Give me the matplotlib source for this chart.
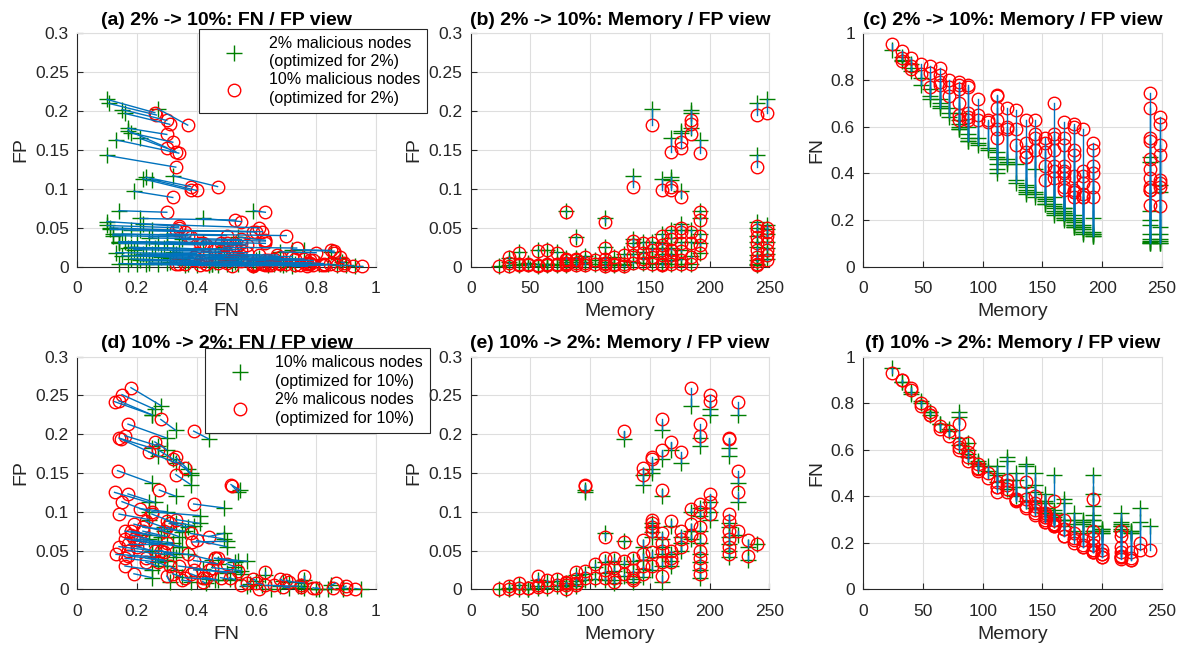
import numpy as np
import matplotlib
matplotlib.use('Agg')
import matplotlib.pyplot as plt
from matplotlib.ticker import FuncFormatter

plt.rcParams['font.family'] = ['Liberation Sans', 'DejaVu Sans']

# ---- top row: optimized for 2%, evaluated at 2% (green) and 10% (red) ----
mem_top = [24,
           32, 32, 32,
           40, 40, 40,
           48, 48,
           56, 56, 56,
           64, 64, 64, 64,
           72, 72, 72,
           80, 80, 80, 80, 80, 80,
           88, 88, 88, 88, 88,
           96, 96, 96,
           104, 104,
           112, 112, 112, 112, 112, 112,
           120, 120, 120,
           128, 128, 128,
           136, 136, 136, 136, 136,
           144, 144, 144, 144,
           152, 152, 152, 152, 152,
           160, 160, 160, 160, 160, 160, 160,
           168, 168, 168, 168, 168, 168, 168, 168, 168,
           176, 176, 176, 176, 176, 176, 176, 176, 176,
           184, 184, 184, 184, 184, 184, 184,
           192, 192, 192, 192, 192, 192,
           240, 240, 240, 240, 240, 240, 240, 240, 240, 240, 240,
           248, 248, 248, 248, 248, 248, 248, 248]
fn2_top = [0.93,
           0.90, 0.885, 0.88,
           0.87, 0.85, 0.84,
           0.81, 0.78,
           0.76, 0.73, 0.72,
           0.72, 0.70, 0.69, 0.68,
           0.68, 0.66, 0.64,
           0.59, 0.66, 0.63, 0.61, 0.60, 0.59,
           0.54, 0.60, 0.57, 0.55, 0.54,
           0.55, 0.53, 0.52,
           0.51, 0.50,
           0.42, 0.49, 0.47, 0.46, 0.44, 0.40,
           0.46, 0.45, 0.44,
           0.44, 0.37, 0.36,
           0.32, 0.35, 0.34, 0.33, 0.31,
           0.42, 0.32, 0.31, 0.30,
           0.27, 0.30, 0.29, 0.28, 0.27,
           0.22, 0.30, 0.27, 0.26, 0.25, 0.24, 0.23,
           0.21, 0.23, 0.25, 0.25, 0.24, 0.23, 0.22, 0.21, 0.20,
           0.18, 0.17, 0.19, 0.22, 0.21, 0.20, 0.19, 0.18, 0.17,
           0.15, 0.16, 0.17, 0.18, 0.16, 0.15, 0.14,
           0.13, 0.14, 0.21, 0.15, 0.14, 0.13,
           0.105, 0.10, 0.10, 0.11, 0.12, 0.14, 0.18, 0.20, 0.24, 0.45, 0.47,
           0.10, 0.10, 0.11, 0.12, 0.14, 0.17, 0.32, 0.35]
fp2_top = [0.001,
           0.002, 0.006, 0.011,
           0.002, 0.019, 0.004,
           0.003, 0.005,
           0.021, 0.003, 0.001,
           0.022, 0.003, 0.002, 0.004,
           0.019, 0.004, 0.002,
           0.072, 0.009, 0.006, 0.011, 0.004, 0.002,
           0.038, 0.009, 0.006, 0.011, 0.003,
           0.014, 0.006, 0.003,
           0.009, 0.003,
           0.062, 0.025, 0.011, 0.006, 0.003, 0.002,
           0.013, 0.004, 0.002,
           0.016, 0.004, 0.002,
           0.117, 0.035, 0.030, 0.016, 0.006,
           0.032, 0.019, 0.011, 0.005,
           0.203, 0.032, 0.024, 0.013, 0.004,
           0.113, 0.042, 0.030, 0.024, 0.016, 0.005, 0.003,
           0.165, 0.115, 0.112, 0.047, 0.037, 0.024, 0.016, 0.008, 0.003,
           0.172, 0.175, 0.097, 0.055, 0.047, 0.032, 0.022, 0.010, 0.004,
           0.202, 0.197, 0.178, 0.047, 0.032, 0.014, 0.004,
           0.163, 0.072, 0.062, 0.042, 0.030, 0.018,
           0.210, 0.143, 0.058, 0.050, 0.040, 0.032, 0.025, 0.015, 0.008, 0.004, 0.002,
           0.215, 0.053, 0.048, 0.042, 0.032, 0.024, 0.016, 0.010]
fn10_top = [0.955,
            0.925, 0.895, 0.88,
            0.895, 0.86, 0.845,
            0.87, 0.825,
            0.86, 0.83, 0.77,
            0.85, 0.82, 0.79, 0.78,
            0.80, 0.77, 0.73,
            0.63, 0.79, 0.78, 0.76, 0.70, 0.65,
            0.63, 0.78, 0.77, 0.66, 0.64,
            0.72, 0.65, 0.63,
            0.63, 0.62,
            0.55, 0.735, 0.73, 0.68, 0.63, 0.59,
            0.68, 0.60, 0.59,
            0.67, 0.59, 0.52,
            0.47, 0.63, 0.53, 0.49, 0.47,
            0.63, 0.57, 0.55, 0.50,
            0.37, 0.55, 0.53, 0.49, 0.43,
            0.38, 0.70, 0.57, 0.55, 0.50, 0.43, 0.41,
            0.33, 0.38, 0.40, 0.62, 0.55, 0.52, 0.43, 0.41, 0.34,
            0.32, 0.30, 0.32, 0.61, 0.60, 0.50, 0.48, 0.39, 0.33,
            0.30, 0.31, 0.30, 0.59, 0.41, 0.39, 0.36,
            0.34, 0.30, 0.53, 0.50, 0.43, 0.40,
            0.265, 0.33, 0.34, 0.33, 0.38, 0.42, 0.46, 0.54, 0.55, 0.68, 0.745,
            0.26, 0.34, 0.36, 0.37, 0.48, 0.52, 0.61, 0.64]
fp10_top = [0.001,
            0.001, 0.005, 0.012,
            0.002, 0.018, 0.003,
            0.002, 0.004,
            0.020, 0.002, 0.001,
            0.021, 0.002, 0.002, 0.003,
            0.018, 0.003, 0.002,
            0.070, 0.008, 0.005, 0.010, 0.003, 0.002,
            0.034, 0.008, 0.005, 0.010, 0.002,
            0.013, 0.005, 0.002,
            0.008, 0.003,
            0.058, 0.024, 0.010, 0.005, 0.003, 0.001,
            0.012, 0.003, 0.002,
            0.015, 0.003, 0.001,
            0.103, 0.033, 0.028, 0.015, 0.005,
            0.030, 0.018, 0.010, 0.005,
            0.182, 0.030, 0.022, 0.012, 0.003,
            0.098, 0.040, 0.028, 0.022, 0.015, 0.004, 0.002,
            0.148, 0.103, 0.098, 0.045, 0.035, 0.022, 0.015, 0.007, 0.003,
            0.160, 0.153, 0.089, 0.050, 0.045, 0.030, 0.020, 0.008, 0.003,
            0.188, 0.183, 0.170, 0.045, 0.030, 0.012, 0.003,
            0.146, 0.070, 0.060, 0.040, 0.028, 0.017,
            0.195, 0.128, 0.052, 0.047, 0.038, 0.030, 0.022, 0.013, 0.007, 0.003, 0.002,
            0.198, 0.050, 0.045, 0.040, 0.030, 0.022, 0.015, 0.009]

# ---- bottom row: optimized for 10%, evaluated at 10% (green) and 2% (red) ----
mem_bot = [24,
           32, 32,
           40, 40,
           48, 48,
           56, 56, 56,
           64, 64,
           72, 72,
           80, 80, 80, 80,
           88, 88, 88, 88,
           96, 96, 96, 96,
           104, 104,
           112, 112, 112, 112,
           120, 120, 120, 120,
           128, 128, 128, 128,
           136, 136, 136, 136,
           144, 144, 144, 144, 144, 144,
           152, 152, 152, 152, 152, 152, 152, 152,
           160, 160, 160, 160, 160, 160, 160, 160,
           168, 168, 168, 168, 168,
           176, 176, 176, 176,
           184, 184, 184, 184,
           192, 192, 192, 192, 192, 192, 192, 192, 192, 192,
           200, 200, 200, 200, 200,
           216, 216, 216, 216, 216, 216, 216, 216,
           224, 224, 224, 224,
           232, 232,
           240]
fn10_bot = [0.95,
            0.89, 0.89,
            0.85, 0.84,
            0.81, 0.80,
            0.76, 0.76, 0.75,
            0.71, 0.71,
            0.69, 0.68,
            0.76, 0.74, 0.65, 0.62,
            0.63, 0.60, 0.58, 0.57,
            0.54, 0.545, 0.55, 0.53,
            0.53, 0.51,
            0.49, 0.53, 0.50, 0.46,
            0.57, 0.55, 0.47, 0.43,
            0.44, 0.50, 0.47, 0.40,
            0.54, 0.53, 0.44, 0.38,
            0.38, 0.38, 0.50, 0.45, 0.42, 0.35,
            0.37, 0.38, 0.41, 0.37, 0.35, 0.34, 0.33, 0.33,
            0.33, 0.32, 0.33, 0.49, 0.34, 0.32, 0.30, 0.31,
            0.30, 0.39, 0.37, 0.30, 0.27,
            0.33, 0.30, 0.28, 0.25,
            0.28, 0.30, 0.29, 0.24,
            0.30, 0.27, 0.49, 0.41, 0.36, 0.32, 0.30, 0.27, 0.25, 0.25,
            0.26, 0.25, 0.26, 0.24, 0.24,
            0.25, 0.27, 0.33, 0.29, 0.28, 0.27, 0.25, 0.26,
            0.25, 0.25, 0.24, 0.24,
            0.35, 0.29,
            0.27]
fp10_bot = [0.000,
            0.002, 0.000,
            0.005, 0.001,
            0.001, 0.001,
            0.012, 0.002, 0.004,
            0.010, 0.002,
            0.011, 0.004,
            0.008, 0.004, 0.001, 0.006,
            0.019, 0.011, 0.007, 0.004,
            0.125, 0.128, 0.020, 0.012,
            0.029, 0.013,
            0.072, 0.035, 0.021, 0.012,
            0.036, 0.024, 0.012, 0.008,
            0.194, 0.062, 0.033, 0.017,
            0.036, 0.022, 0.013, 0.010,
            0.148, 0.135, 0.055, 0.038, 0.026, 0.016,
            0.155, 0.150, 0.085, 0.080, 0.074, 0.068, 0.042, 0.025,
            0.205, 0.168, 0.120, 0.065, 0.055, 0.045, 0.030, 0.010,
            0.180, 0.082, 0.045, 0.036, 0.030,
            0.163, 0.068, 0.060, 0.050,
            0.237, 0.100, 0.075, 0.065,
            0.195, 0.185, 0.105, 0.095, 0.075, 0.060, 0.045, 0.035, 0.025, 0.015,
            0.232, 0.225, 0.112, 0.100, 0.090,
            0.182, 0.172, 0.085, 0.080, 0.068, 0.058, 0.050, 0.042,
            0.225, 0.137, 0.112, 0.070,
            0.055, 0.038,
            0.058]
fn2_bot = [0.93,
           0.90, 0.90,
           0.865, 0.855,
           0.80, 0.79,
           0.76, 0.75, 0.75,
           0.70, 0.69,
           0.68, 0.66,
           0.71, 0.63, 0.61, 0.60,
           0.63, 0.59, 0.57, 0.55,
           0.52, 0.515, 0.54, 0.51,
           0.50, 0.48,
           0.44, 0.46, 0.44, 0.42,
           0.47, 0.45, 0.43, 0.42,
           0.39, 0.385, 0.39, 0.38,
           0.46, 0.39, 0.36, 0.35,
           0.36, 0.33, 0.40, 0.37, 0.34, 0.32,
           0.33, 0.32, 0.33, 0.31, 0.30, 0.29, 0.29, 0.31,
           0.28, 0.27, 0.275, 0.38, 0.30, 0.28, 0.27, 0.30,
           0.26, 0.30, 0.26, 0.23, 0.23,
           0.24, 0.22, 0.21, 0.20,
           0.18, 0.21, 0.19, 0.18,
           0.17, 0.16, 0.39, 0.25, 0.22, 0.19, 0.17, 0.16, 0.16, 0.19,
           0.15, 0.14, 0.17, 0.15, 0.14,
           0.14, 0.145, 0.25, 0.23, 0.18, 0.16, 0.14, 0.13,
           0.125, 0.135, 0.125, 0.16,
           0.20, 0.17,
           0.17]
fp2_bot = [0.001,
           0.004, 0.001,
           0.008, 0.002,
           0.002, 0.002,
           0.017, 0.003, 0.005,
           0.012, 0.003,
           0.013, 0.005,
           0.010, 0.005, 0.001, 0.008,
           0.022, 0.013, 0.008, 0.005,
           0.133, 0.135, 0.024, 0.015,
           0.033, 0.015,
           0.068, 0.040, 0.025, 0.015,
           0.040, 0.028, 0.015, 0.010,
           0.204, 0.061, 0.037, 0.020,
           0.040, 0.025, 0.015, 0.012,
           0.157, 0.148, 0.063, 0.045, 0.030, 0.020,
           0.170, 0.168, 0.090, 0.085, 0.080, 0.075, 0.048, 0.030,
           0.219, 0.180, 0.128, 0.072, 0.060, 0.050, 0.035, 0.017,
           0.190, 0.088, 0.050, 0.040, 0.035,
           0.177, 0.075, 0.065, 0.055,
           0.260, 0.104, 0.084, 0.070,
           0.213, 0.198, 0.110, 0.100, 0.080, 0.065, 0.050, 0.040, 0.030, 0.020,
           0.251, 0.243, 0.123, 0.113, 0.097,
           0.195, 0.194, 0.097, 0.088, 0.075, 0.065, 0.055, 0.045,
           0.242, 0.153, 0.125, 0.075,
           0.063, 0.043,
           0.058]

titles = ['(a) 2% -> 10%: FN / FP view', '(b) 2% -> 10%: Memory / FP view',
          '(c) 2% -> 10%: Memory / FP view', '(d) 10% -> 2%: FN / FP view',
          '(e) 10% -> 2%: Memory / FP view', '(f) 10% -> 2%: Memory / FP view']
legend_top = ['2% malicious nodes\n(optimized for 2%)', '10% malicious nodes\n(optimized for 2%)']
legend_bot = ['10% malicous nodes\n(optimized for 10%)', '2% malicous nodes\n(optimized for 10%)']

GREEN = '#007f00'
BLUE = '#0072bd'
DARK = '#262626'
GRID = '#dedede'


def panel(ax, x1, y1, x2, y2, xlim, ylim, xt, yt, xlabel, ylabel, title):
    x1, y1, x2, y2 = map(np.asarray, (x1, y1, x2, y2))
    g, = ax.plot(x1, y1, '+', color=GREEN, ms=11, mew=1.0, clip_on=False, zorder=3)
    r, = ax.plot(x2, y2, 'o', mfc='none', mec='red', ms=9, mew=1.0, clip_on=False, zorder=4)
    ax.plot(np.vstack([x1, x2]), np.vstack([y1, y2]), '-', color=BLUE, lw=1.0, zorder=5)
    ax.set_xlim(*xlim)
    ax.set_ylim(*ylim)
    ax.set_xticks(xt)
    ax.set_yticks(yt)
    fmt = FuncFormatter(lambda v, _: f'{v:g}')
    ax.xaxis.set_major_formatter(fmt)
    ax.yaxis.set_major_formatter(fmt)
    ax.grid(True, color=GRID, lw=0.8, zorder=0)
    ax.set_axisbelow(True)
    for s in ('top', 'right'):
        ax.spines[s].set_color(GRID)
    for s in ('left', 'bottom'):
        ax.spines[s].set_color(DARK)
        ax.spines[s].set_linewidth(0.8)
    ax.tick_params(direction='in', length=4, width=0.8, colors=DARK, labelsize=12.5,
                   top=False, right=False)
    ax.tick_params(axis='x', pad=10.5)
    ax.tick_params(axis='y', pad=6)
    ax.set_xlabel(xlabel, fontsize=14, color=DARK, labelpad=5)
    ax.set_ylabel(ylabel, fontsize=14, color=DARK, labelpad=4)
    ax.set_title(title, fontsize=14, fontweight='bold', pad=6)
    return g, r


fig = plt.figure(figsize=(11.86, 6.48), dpi=100)
lefts = [0.0651, 0.3969, 0.7279]
w = 0.2518
ax_a = fig.add_axes([lefts[0], 0.5884, w, 0.3602])
ax_b = fig.add_axes([lefts[1], 0.5884, w, 0.3602])
ax_c = fig.add_axes([lefts[2], 0.5884, w, 0.3602])
ax_d = fig.add_axes([lefts[0], 0.0906, w, 0.359])
ax_e = fig.add_axes([lefts[1], 0.0906, w, 0.359])
ax_f = fig.add_axes([lefts[2], 0.0906, w, 0.359])

fp_ticks = np.arange(0, 0.31, 0.05)
fn_ticks = np.arange(0, 1.01, 0.2)
mem_ticks = np.arange(0, 251, 50)

g, r = panel(ax_a, fn2_top, fp2_top, fn10_top, fp10_top, (0, 1), (0, 0.3),
             fn_ticks, fp_ticks, 'FN', 'FP', titles[0])
panel(ax_b, mem_top, fp2_top, mem_top, fp10_top, (0, 250), (0, 0.3),
      mem_ticks, fp_ticks, 'Memory', 'FP', titles[1])
panel(ax_c, mem_top, fn2_top, mem_top, fn10_top, (0, 250), (0, 1),
      mem_ticks, fn_ticks, 'Memory', 'FN', titles[2])
g2, r2 = panel(ax_d, fn10_bot, fp10_bot, fn2_bot, fp2_bot, (0, 1), (0, 0.3),
               fn_ticks, fp_ticks, 'FN', 'FP', titles[3])
panel(ax_e, mem_bot, fp10_bot, mem_bot, fp2_bot, (0, 250), (0, 0.3),
      mem_ticks, fp_ticks, 'Memory', 'FP', titles[4])
panel(ax_f, mem_bot, fn10_bot, mem_bot, fn2_bot, (0, 250), (0, 1),
      mem_ticks, fn_ticks, 'Memory', 'FN', titles[5])

leg_kw = dict(loc='upper left', fontsize=11.5, fancybox=False, framealpha=1,
              edgecolor=DARK, borderpad=0.45, handlelength=3.4, handletextpad=0.5,
              labelspacing=0.2, bbox_transform=fig.transFigure, borderaxespad=0)
for ax, hs, labels, anchor in [(ax_a, [g, r], legend_top, (0.168, 0.956)),
                               (ax_d, [g2, r2], legend_bot, (0.173, 0.463))]:
    leg = ax.legend(hs, labels, bbox_to_anchor=anchor, **leg_kw)
    leg.get_frame().set_linewidth(0.8)
    for t in leg.get_texts():
        t.set_linespacing(1.3)
    leg.set_zorder(10)

fig.savefig('out.png', dpi=100)
